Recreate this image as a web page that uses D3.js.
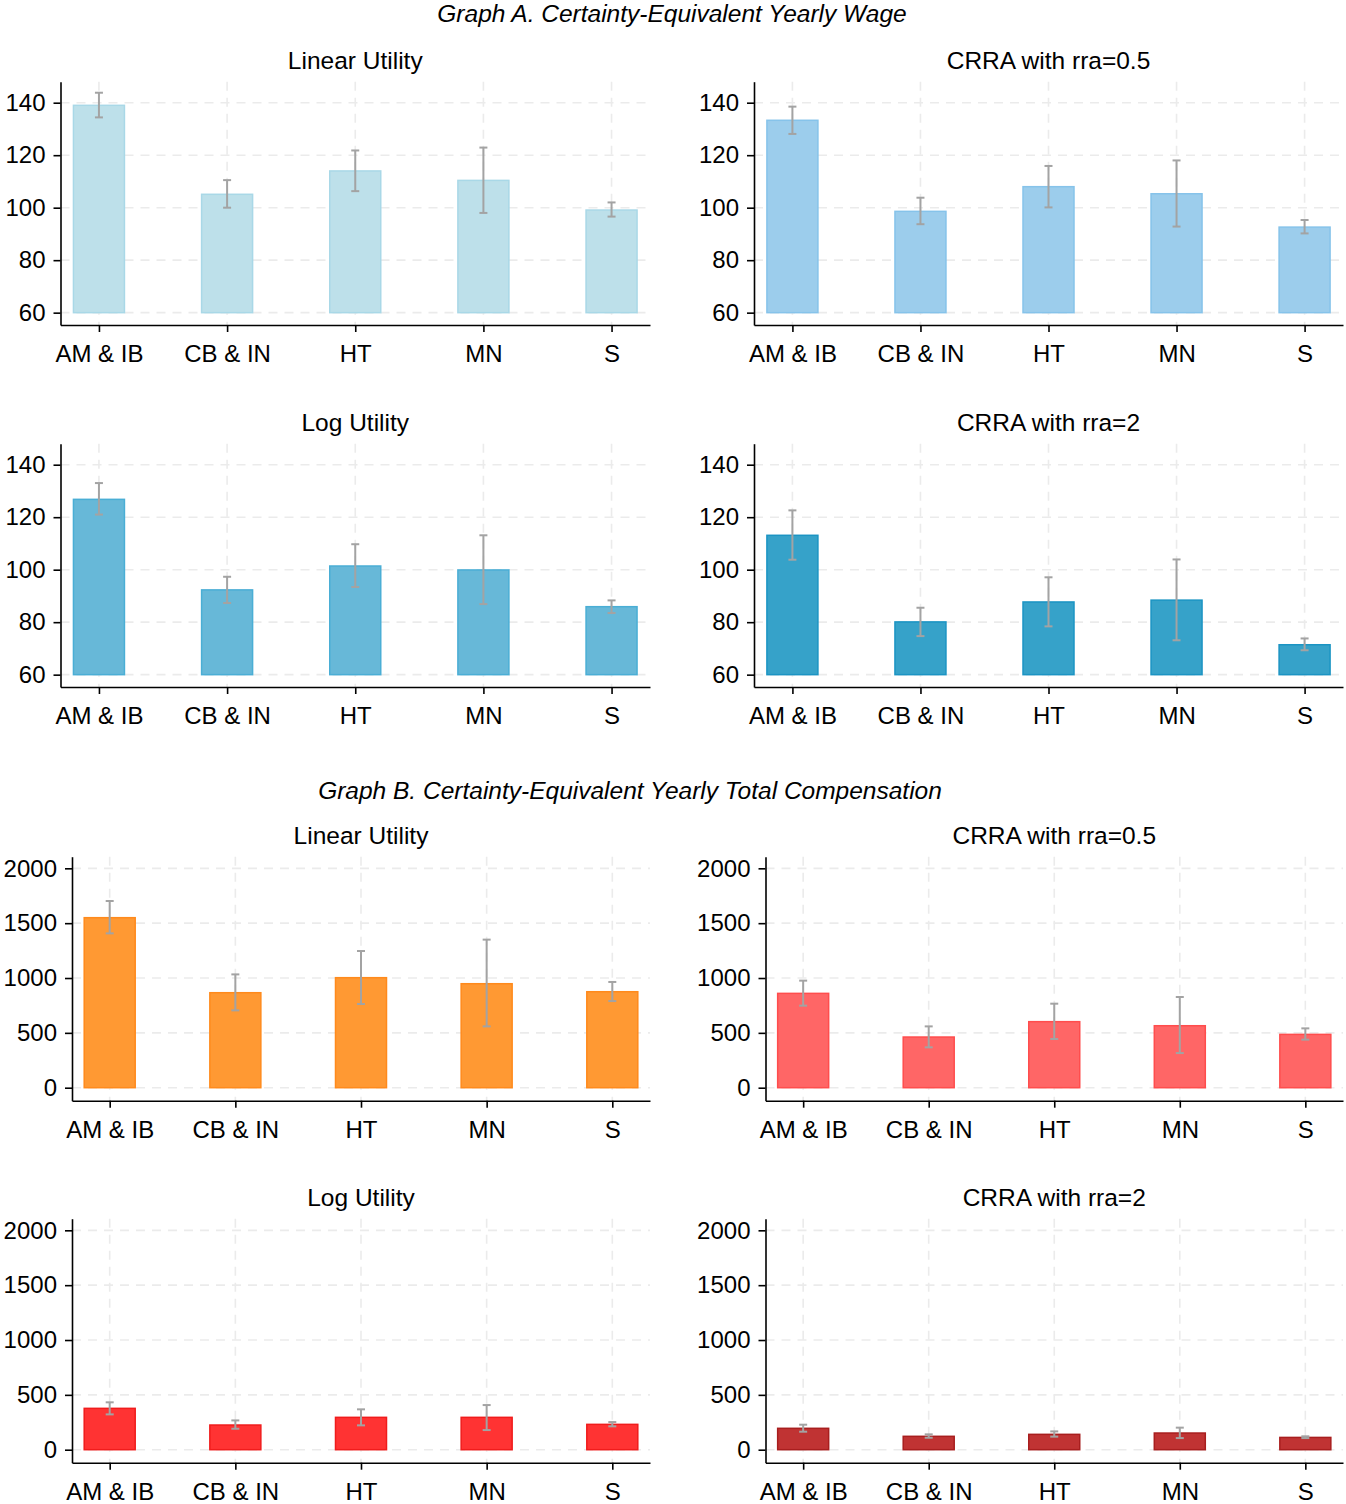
<!DOCTYPE html>
<html>
  <head>
    <meta charset="utf-8">
    <title>Certainty-equivalent wage and compensation</title>
    <script src="https://cdn.jsdelivr.net/npm/d3@7"></script>
    <style>
      body { margin: 0; background: #fff; }
      svg { font-family: "Liberation Sans", Arial, sans-serif; }
      .axis path, .axis line { stroke: #000; stroke-width: 1.6; }
      .axis text { font-size: 24px; fill: #000; }
      .grid { stroke: #ebebeb; stroke-width: 1.6; stroke-dasharray: 9 7; }
      .err { stroke: #a3a3a3; stroke-width: 2; }
      .panelTitle { font-size: 24.5px; text-anchor: middle; }
      .graphTitle { font-size: 24.5px; font-style: italic; text-anchor: middle; }
    </style>
  </head>
  <body>
    <svg id="chart" width="1346" height="1504"></svg>
    <script>
      // categories and ticks
      categories = ["AM & IB", "CB & IN", "HT", "MN", "S"];
      wageTicks = [60, 80, 100, 120, 140];
      compTicks = [0, 500, 1000, 1500, 2000];

      // Graph A: yearly wage (mean, lower, upper)
      wageLinear    = [139.0, 105.1, 114.0, 110.4, 99.1];
      wageLinearLo  = [134.4, 100.0, 106.3, 98.0, 96.6];
      wageLinearHi  = [143.8, 110.5, 121.8, 122.9, 102.0];
      wageCrra05    = [133.3, 98.6, 108.0, 105.3, 92.6];
      wageCrra05Lo  = [128.1, 93.7, 100.1, 92.8, 90.2];
      wageCrra05Hi  = [138.5, 103.8, 115.9, 118.0, 95.3];
      wageLog       = [126.8, 92.3, 101.4, 99.9, 85.9];
      wageLogLo     = [121.0, 87.3, 93.4, 86.9, 83.5];
      wageLogHi     = [133.0, 97.3, 109.7, 113.1, 88.3];
      wageCrra2     = [113.1, 80.1, 87.7, 88.4, 71.4];
      wageCrra2Lo   = [103.8, 74.7, 78.4, 73.1, 69.3];
      wageCrra2Hi   = [122.6, 85.5, 97.1, 103.9, 73.8];

      // Graph B: yearly total compensation (mean, lower, upper)
      compLinear    = [1550, 866, 1003, 948, 875];
      compLinearLo  = [1407, 705, 763, 559, 790];
      compLinearHi  = [1702, 1033, 1246, 1350, 964];
      compCrra05    = [860, 462, 602, 565, 486];
      compCrra05Lo  = [748, 368, 444, 316, 438];
      compCrra05Hi  = [976, 559, 766, 827, 541];
      compLog       = [377, 225, 295, 295, 231];
      compLogLo     = [322, 191, 222, 179, 213];
      compLogHi     = [432, 267, 368, 407, 252];
      compCrra2     = [195, 122, 140, 152, 112];
      compCrra2Lo   = [164, 109, 119, 106, 106];
      compCrra2Hi   = [228, 140, 167, 201, 122];

      chart = d3.select("#chart");

      panels = [
        { title: "Linear Utility", v: wageLinear, lo: wageLinearLo, hi: wageLinearHi, fill: "#bde0ea", stroke: "#a9d8e7",
          left: 60.5, right: 650, top: 81.7, bottom: 325, domain: [55.3, 148], ticks: wageTicks },
        { title: "CRRA with rra=0.5", v: wageCrra05, lo: wageCrra05Lo, hi: wageCrra05Hi, fill: "#9ccdec", stroke: "#86c3ea",
          left: 754, right: 1343, top: 81.7, bottom: 325, domain: [55.3, 148], ticks: wageTicks },
        { title: "Log Utility", v: wageLog, lo: wageLogLo, hi: wageLogHi, fill: "#67b8d8", stroke: "#4aaed5",
          left: 60.5, right: 650, top: 443.7, bottom: 687, domain: [55.3, 148], ticks: wageTicks },
        { title: "CRRA with rra=2", v: wageCrra2, lo: wageCrra2Lo, hi: wageCrra2Hi, fill: "#36a2c9", stroke: "#1b94c3",
          left: 754, right: 1343, top: 443.7, bottom: 687, domain: [55.3, 148], ticks: wageTicks },
        { title: "Linear Utility", v: compLinear, lo: compLinearLo, hi: compLinearHi, fill: "#ff9933", stroke: "#ff8a1c",
          left: 72, right: 650, top: 856.7, bottom: 1100.7, domain: [-118.5, 2106], ticks: compTicks },
        { title: "CRRA with rra=0.5", v: compCrra05, lo: compCrra05Lo, hi: compCrra05Hi, fill: "#ff6666", stroke: "#ff4d4d",
          left: 765.5, right: 1343, top: 856.7, bottom: 1100.7, domain: [-118.5, 2106], ticks: compTicks },
        { title: "Log Utility", v: compLog, lo: compLogLo, hi: compLogHi, fill: "#ff3333", stroke: "#f01c1c",
          left: 72, right: 650, top: 1218.7, bottom: 1462.7, domain: [-118.5, 2106], ticks: compTicks },
        { title: "CRRA with rra=2", v: compCrra2, lo: compCrra2Lo, hi: compCrra2Hi, fill: "#c03333", stroke: "#a81e1e",
          left: 765.5, right: 1343, top: 1218.7, bottom: 1462.7, domain: [-118.5, 2106], ticks: compTicks }
      ];

      chart.append("text")
        .classed("graphTitle", true)
        .attr("x", 672)
        .attr("y", 22)
        .text("Graph A. Certainty-Equivalent Yearly Wage");
      chart.append("text")
        .classed("graphTitle", true)
        .attr("x", 630)
        .attr("y", 799)
        .text("Graph B. Certainty-Equivalent Yearly Total Compensation");

      panels.forEach(function(p) {
        let x = d3.scalePoint()
          .domain(categories)
          .range([p.left, p.right])
          .padding(0.3);
        let y = d3.scaleLinear()
          .domain(p.domain)
          .range([p.bottom, p.top]);
        let g = chart.append("g");
        let barW = 51;

        // grid
        g.selectAll(".hgrid")
            .data(p.ticks)
          .enter().append("line")
            .classed("grid", true)
            .attr("x1", p.left)
            .attr("x2", p.right)
            .attr("y1", function(d) { return y(d); })
            .attr("y2", function(d) { return y(d); });
        g.selectAll(".vgrid")
            .data(categories)
          .enter().append("line")
            .classed("grid", true)
            .attr("x1", function(d) { return x(d); })
            .attr("x2", function(d) { return x(d); })
            .attr("y1", p.top)
            .attr("y2", p.bottom);

        // bars
        let base = y(p.ticks[0]);
        g.selectAll(".bar")
            .data(categories)
          .enter().append("rect")
            .attr("x", function(d) { return x(d) - barW / 2; })
            .attr("width", barW)
            .attr("y", function(d, i) { return y(p.v[i]); })
            .attr("height", function(d, i) { return base - y(p.v[i]); })
            .attr("fill", p.fill)
            .attr("stroke", p.stroke)
            .attr("stroke-width", 1.5);

        // error bars
        categories.forEach(function(c, i) {
          let cx = x(c);
          g.append("line").classed("err", true)
            .attr("x1", cx).attr("x2", cx)
            .attr("y1", y(p.lo[i])).attr("y2", y(p.hi[i]));
          [p.lo[i], p.hi[i]].forEach(function(e) {
            g.append("line").classed("err", true)
              .attr("x1", cx - 4).attr("x2", cx + 4)
              .attr("y1", y(e)).attr("y2", y(e));
          });
        });

        // axes
        g.append("g")
          .classed("axis", true)
          .attr("transform", "translate(" + p.left + ",0)")
          .call(d3.axisLeft(y).tickValues(p.ticks).tickFormat(d3.format("d"))
            .tickSizeOuter(0).tickSizeInner(7).tickPadding(8));
        g.append("g")
          .classed("axis", true)
          .attr("transform", "translate(0," + p.bottom + ")")
          .call(d3.axisBottom(x).tickSizeOuter(0).tickSizeInner(7).tickPadding(13));

        g.append("text")
          .classed("panelTitle", true)
          .attr("x", (p.left + p.right) / 2)
          .attr("y", p.top - 12.5)
          .text(p.title);
      });
    </script>
  </body>
</html>
